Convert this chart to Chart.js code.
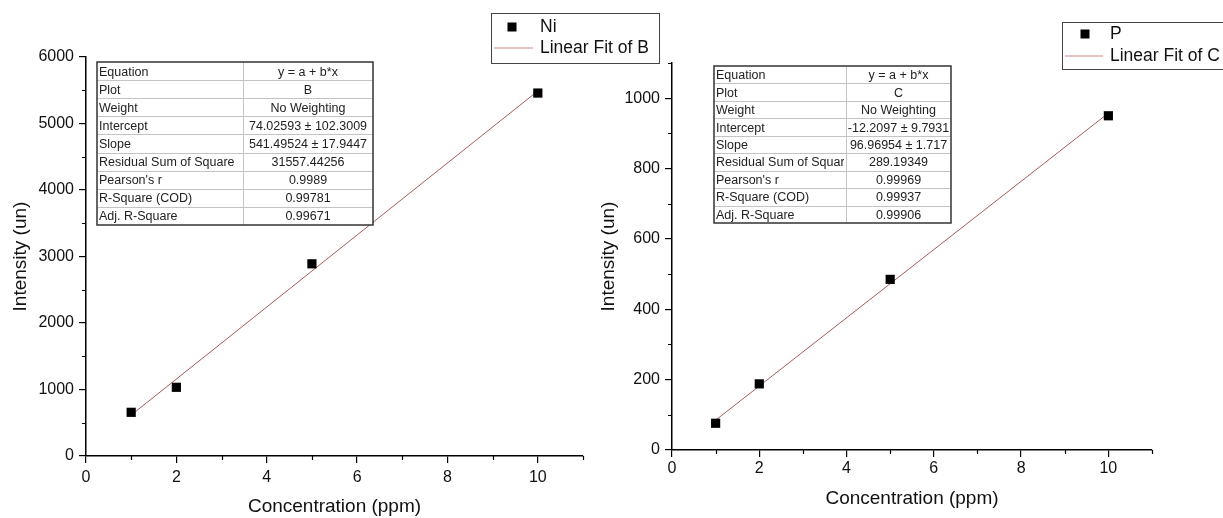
<!DOCTYPE html>
<html>
<head>
<meta charset="utf-8">
<title>Calibration curves Ni and P</title>
<script src="https://cdn.jsdelivr.net/npm/chart.js@4.4.1/dist/chart.umd.min.js"></script>
<style>
  body { margin: 0; background: #fff; }
  #wrap { position: relative; width: 1223px; height: 518px; }
  canvas { position: absolute; left: 0; top: 0; }
</style>
</head>
<body>
<div id="wrap">
  <canvas id="niChart" width="1223" height="518"></canvas>
  <canvas id="pChart" width="1223" height="518"></canvas>
</div>
<script>
const concentration = [1, 2, 5, 10];
const niIntensity = [657, 1033, 2890, 5458];
const pIntensity = [76, 188, 485, 950];

// fitted lines, ends at x = 1 and x = 10
const fitX = [1, 10];
const niFit = [615.5, 5489.0];
const pFit = [84.8, 957.5];

// minor tick positions
const minorX = [1, 3, 5, 7, 9, 11];
const niMinorY = [500, 1500, 2500, 3500, 4500, 5500];
const pMinorY = [100, 300, 500, 700, 900, 1100];

// fit report tables
const tableLabels = ["Equation", "Plot", "Weight", "Intercept", "Slope", "Residual Sum of Square",
  "Pearson's r", "R-Square (COD)", "Adj. R-Square"];
const niTable = ["y = a + b*x", "B", "No Weighting", "74.02593 \u00b1 102.3009", "541.49524 \u00b1 17.9447",
  "31557.44256", "0.9989", "0.99781", "0.99671"];
const pTable = ["y = a + b*x", "C", "No Weighting", "-12.2097 \u00b1 9.7931", "96.96954 \u00b1 1.717",
  "289.19349", "0.99969", "0.99937", "0.99906"];

Chart.defaults.font.family = "'Liberation Sans', Arial, sans-serif";
Chart.defaults.color = "#111";

const fitColor = "#a85a5a";

//draws minor ticks, the stats table and the legend box
function extrasPlugin(o) {
  return {
    id: "extras",
    afterDraw(chart) {
      const ctx = chart.ctx;
      const xs = chart.scales.x, ys = chart.scales.y;
      ctx.save();

      // minor ticks
      ctx.strokeStyle = "#000";
      ctx.lineWidth = 1.2;
      ctx.beginPath();
      o.minorX.forEach(v => {
        const px = Math.round(xs.getPixelForValue(v)) + 0.5;
        ctx.moveTo(px, xs.top);
        ctx.lineTo(px, xs.top + 4);
      });
      o.minorY.forEach(v => {
        const py = Math.round(ys.getPixelForValue(v)) + 0.5;
        ctx.moveTo(ys.right, py);
        ctx.lineTo(ys.right - 4, py);
      });
      ctx.stroke();

      // table
      const t = o.table;
      const rows = t.labels.length;
      const rowH = (t.bottom - t.top) / rows;
      ctx.fillStyle = "#fff";
      ctx.fillRect(t.left, t.top, t.right - t.left, t.bottom - t.top);
      ctx.strokeStyle = "#c4c4c4";
      ctx.lineWidth = 1;
      ctx.beginPath();
      for (let i = 1; i < rows; i++) {
        const y = Math.round(t.top + i * rowH) + 0.5;
        ctx.moveTo(t.left, y);
        ctx.lineTo(t.right, y);
      }
      ctx.moveTo(t.mid + 0.5, t.top);
      ctx.lineTo(t.mid + 0.5, t.bottom);
      ctx.stroke();
      ctx.strokeStyle = "#333";
      ctx.lineWidth = 1.5;
      ctx.strokeRect(t.left, t.top, t.right - t.left, t.bottom - t.top);

      ctx.font = "12.5px 'Liberation Sans', Arial, sans-serif";
      ctx.fillStyle = "#222";
      ctx.textBaseline = "middle";
      for (let i = 0; i < rows; i++) {
        const cy = t.top + (i + 0.5) * rowH + 1;
        ctx.save();
        ctx.beginPath();
        ctx.rect(t.left, t.top + i * rowH, t.mid - t.left - 2, rowH);
        ctx.clip();
        ctx.textAlign = "left";
        ctx.fillText(t.labels[i], t.left + 2, cy);
        ctx.restore();
        ctx.textAlign = "center";
        ctx.fillText(t.values[i], (t.mid + t.right) / 2, cy);
      }

      // legend
      const lg = o.legend;
      ctx.strokeStyle = "#444";
      ctx.lineWidth = 1;
      ctx.fillStyle = "#fff";
      ctx.fillRect(lg.left, lg.top, lg.right - lg.left, lg.bottom - lg.top);
      ctx.strokeRect(lg.left + 0.5, lg.top + 0.5, lg.right - lg.left, lg.bottom - lg.top);
      ctx.fillStyle = "#000";
      ctx.fillRect(lg.markX - 4.5, lg.row1 - 4.5, 9, 9);
      ctx.strokeStyle = "#c88a8a";
      ctx.lineWidth = 1.2;
      ctx.beginPath();
      ctx.moveTo(lg.left + 3, lg.row2);
      ctx.lineTo(lg.textX - 7, lg.row2);
      ctx.stroke();
      ctx.font = "17.5px 'Liberation Sans', Arial, sans-serif";
      ctx.fillStyle = "#111";
      ctx.textAlign = "left";
      ctx.textBaseline = "middle";
      ctx.fillText(lg.name, lg.textX, lg.row1);
      ctx.fillText(lg.fitName, lg.textX, lg.row2);

      ctx.restore();
    }
  };
}

function makeChart(id, o) {
  return new Chart(document.getElementById(id), {
    type: "scatter",
    data: {
      datasets: [{
        label: o.legend.name,
        data: concentration.map((c, i) => ({ x: c, y: o.points[i] })),
        pointStyle: "rect",
        pointRadius: 6.5,
        backgroundColor: "#000",
        borderColor: "#000",
        borderWidth: 0,
        order: 0
      }, {
        label: o.legend.fitName,
        type: "line",
        data: fitX.map((c, i) => ({ x: c, y: o.fit[i] })),
        borderColor: fitColor,
        borderWidth: 1,
        pointRadius: 0,
        fill: false,
        order: 1
      }]
    },
    options: {
      responsive: false,
      animation: false,
      layout: { padding: o.padding },
      plugins: { legend: { display: false }, tooltip: { enabled: false } },
      scales: {
        x: {
          type: "linear",
          min: 0,
          max: 11,
          border: { color: "#000", width: 1.5 },
          grid: { drawOnChartArea: false, tickLength: 7, color: "#000", lineWidth: 1.2 },
          ticks: { stepSize: 2, includeBounds: false, padding: o.xTickPad, maxRotation: 0,
                   font: { size: 16 }, color: "#111", callback: v => String(v) },
          title: { display: true, text: "Concentration (ppm)", font: { size: 19 }, color: "#111",
                   padding: { top: 0, bottom: o.xTitlePad } },
          afterFit(s) { s.height = o.xHeight; }
        },
        y: {
          type: "linear",
          min: 0,
          max: o.yMax,
          border: { color: "#000", width: 1.5 },
          grid: { drawOnChartArea: false, tickLength: 7, color: "#000", lineWidth: 1.2 },
          ticks: { stepSize: o.yStep, includeBounds: false, padding: 5, font: { size: 16 }, color: "#111",
                   callback: v => String(v) },
          title: { display: true, text: "Intensity (un)", font: { size: 19 }, color: "#111",
                   padding: { top: o.yTitlePad, bottom: 0 } },
          afterFit(s) { s.width = o.yWidth; }
        }
      }
    },
    plugins: [extrasPlugin(o)]
  });
}

makeChart("niChart", {
  points: niIntensity,
  fit: niFit,
  yMax: 6000,
  yStep: 1000,
  minorX: minorX,
  minorY: niMinorY,
  padding: { left: 0, top: 57, right: 640, bottom: 0 },
  yWidth: 86,
  xHeight: 62,
  xTickPad: 5,
  xTitlePad: 0,
  yTitlePad: 9,
  table: { left: 97, mid: 243, right: 373, top: 62, bottom: 225, labels: tableLabels, values: niTable },
  legend: { left: 491, right: 659, top: 13, bottom: 63, markX: 512, textX: 540, row1: 27, row2: 48,
            name: "Ni", fitName: "Linear Fit of B" }
});

makeChart("pChart", {
  points: pIntensity,
  fit: pFit,
  yMax: 1100,
  yStep: 200,
  minorX: minorX,
  minorY: pMinorY,
  padding: { left: 590, top: 63, right: 71, bottom: 0 },
  yWidth: 82,
  xHeight: 68,
  xTickPad: 2,
  xTitlePad: 8,
  yTitlePad: 7,
  table: { left: 714, mid: 846, right: 951, top: 66, bottom: 223, labels: tableLabels, values: pTable },
  legend: { left: 1062, right: 1240, top: 22, bottom: 69, markX: 1085, textX: 1110, row1: 34, row2: 56,
            name: "P", fitName: "Linear Fit of C" }
});
</script>
</body>
</html>
